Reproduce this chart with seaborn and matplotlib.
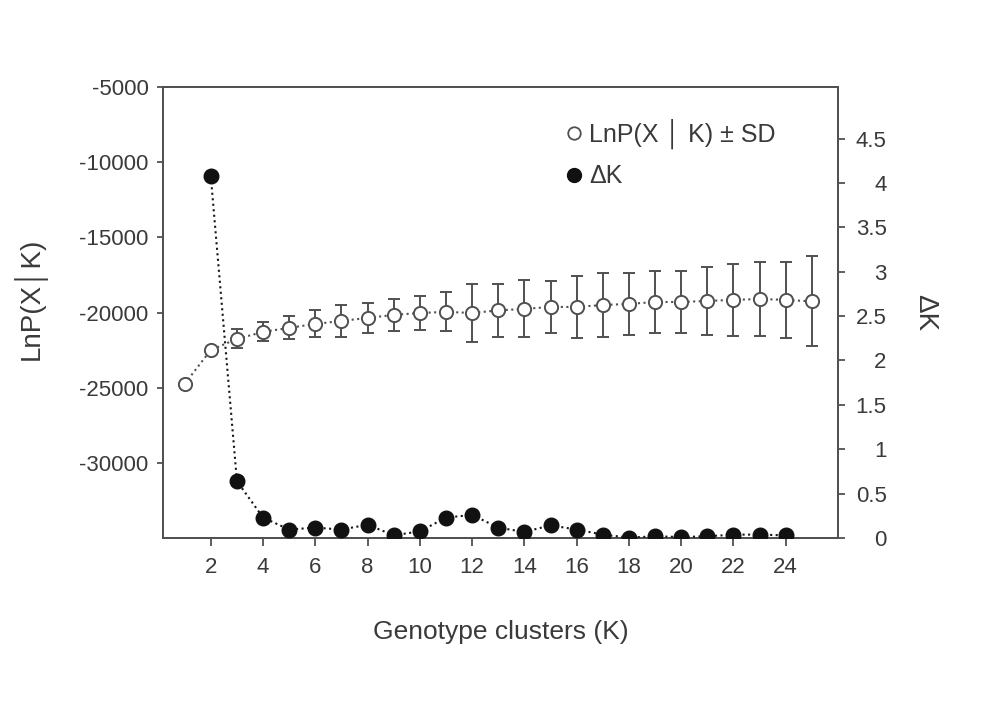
import numpy as np
import pandas as pd
import seaborn as sns
import matplotlib.pyplot as plt
from matplotlib.lines import Line2D

# values
k_lnp = list(range(1, 26))
lnp_mean = [-24750, -22490, -21760, -21290, -21020, -20760, -20560, -20360, -20160, -20030,
            -19960, -20030, -19860, -19760, -19630, -19630, -19500, -19430, -19300, -19300,
            -19230, -19160, -19100, -19160, -19260]
lnp_sd = [0, 0, 630, 630, 770, 900, 1060, 1000, 1060, 1160,
          1300, 1900, 1760, 1900, 1730, 2090, 2130, 2090, 2030, 2090,
          2260, 2390, 2460, 2530, 2990]

k_delta = list(range(2, 25))
delta_k = [4.075, 0.64, 0.23, 0.095, 0.117, 0.095, 0.15, 0.03, 0.075, 0.23,
           0.26, 0.117, 0.068, 0.143, 0.095, 0.038, 0.005, 0.019, 0.011, 0.019,
           0.038, 0.038, 0.03]

x_ticks = list(range(2, 25, 2))
left_ticks = [-30000, -25000, -20000, -15000, -10000, -5000]
right_ticks = [0, 0.5, 1, 1.5, 2, 2.5, 3, 3.5, 4, 4.5]
right_labels = ['0', '0.5', '1', '1.5', '2', '2.5', '3', '3.5', '4', '4.5']

lnp_df = pd.DataFrame({'K': k_lnp, 'lnp': lnp_mean, 'sd': lnp_sd})
dk_df = pd.DataFrame({'K': k_delta, 'dk': delta_k})

sns.set_style("ticks")
txt = '#3a3a3a'
edge = '#505050'
plt.rcParams['font.family'] = ['Liberation Sans', 'DejaVu Sans']
plt.rcParams.update({
    'axes.unicode_minus': False,
    'text.color': txt, 'axes.labelcolor': txt,
    'xtick.color': edge, 'ytick.color': edge,
    'xtick.labelcolor': txt, 'ytick.labelcolor': txt,
    'axes.edgecolor': edge, 'axes.linewidth': 1.3,
})

fig = plt.figure(figsize=(9.83, 7.18), dpi=100)
ax = fig.add_axes([0.1658, 0.2507, 0.6867, 0.6281])
ax2 = ax.twinx()

# LnP(X|K) with SD bars
sd_part = lnp_df[lnp_df.sd > 0]
ax.errorbar(sd_part.K, sd_part.lnp, yerr=sd_part.sd, fmt='none', ecolor=edge,
            elinewidth=1.4, capsize=4.5, capthick=1.4, zorder=2)
sns.lineplot(data=lnp_df, x='K', y='lnp', ax=ax, color=edge, linestyle=':', lw=1.5,
             marker='o', markersize=9.5, markerfacecolor='white', markeredgecolor=edge,
             markeredgewidth=1.4, zorder=3)

# Delta K
sns.lineplot(data=dk_df, x='K', y='dk', ax=ax2, color='#151515', linestyle=':', lw=1.5,
             marker='o', markersize=10.5, markerfacecolor='#111111', markeredgecolor='#111111',
             markeredgewidth=1, zorder=3)

ax.set_xlim(0.17, 26.0)
ax.set_xticks(x_ticks)
ax.set_ylim(-35000, -5000)
ax.set_yticks(left_ticks)
ax2.set_ylim(0, 5.08)
ax2.set_yticks(right_ticks)
ax2.set_yticklabels(right_labels)

ax.tick_params(axis='x', direction='out', length=6, width=1.3, labelsize=16, pad=8)
ax.tick_params(axis='y', direction='out', length=4.5, width=1.3, labelsize=16, pad=6)
ax2.tick_params(axis='y', direction='out', length=5, width=1.3, labelsize=16, pad=30)
plt.setp(ax2.get_yticklabels(), ha='right')

for a in (ax, ax2):
    for s in a.spines.values():
        s.set_visible(True)
        s.set_linewidth(1.3)
        s.set_color(edge)

ax.set_xlabel('Genotype clusters (K)', fontsize=19)
ax.xaxis.set_label_coords(0.5, -0.182)
ax.set_ylabel('LnP(X│K)', fontsize=20)
ax.yaxis.set_label_coords(-0.172, 0.53)
ax2.set_ylabel('ΔK', fontsize=20, rotation=270, va='bottom')
ax2.yaxis.set_label_coords(1.11, 0.5)

handles = [
    Line2D([], [], ls='none', marker='o', ms=9, mfc='white', mec=edge, mew=1.3),
    Line2D([], [], ls='none', marker='o', ms=10, mfc='#111111', mec='#111111'),
]
ax2.legend(handles, ['LnP(X │ K) ± SD', 'ΔK'], loc='upper left',
           bbox_to_anchor=(0.5768, 0.8343), bbox_transform=fig.transFigure,
           frameon=False, fontsize=18, borderpad=0, borderaxespad=0,
           handlelength=0.6, handletextpad=0.3, labelspacing=0.6)

fig.savefig('out.png', dpi=100)
